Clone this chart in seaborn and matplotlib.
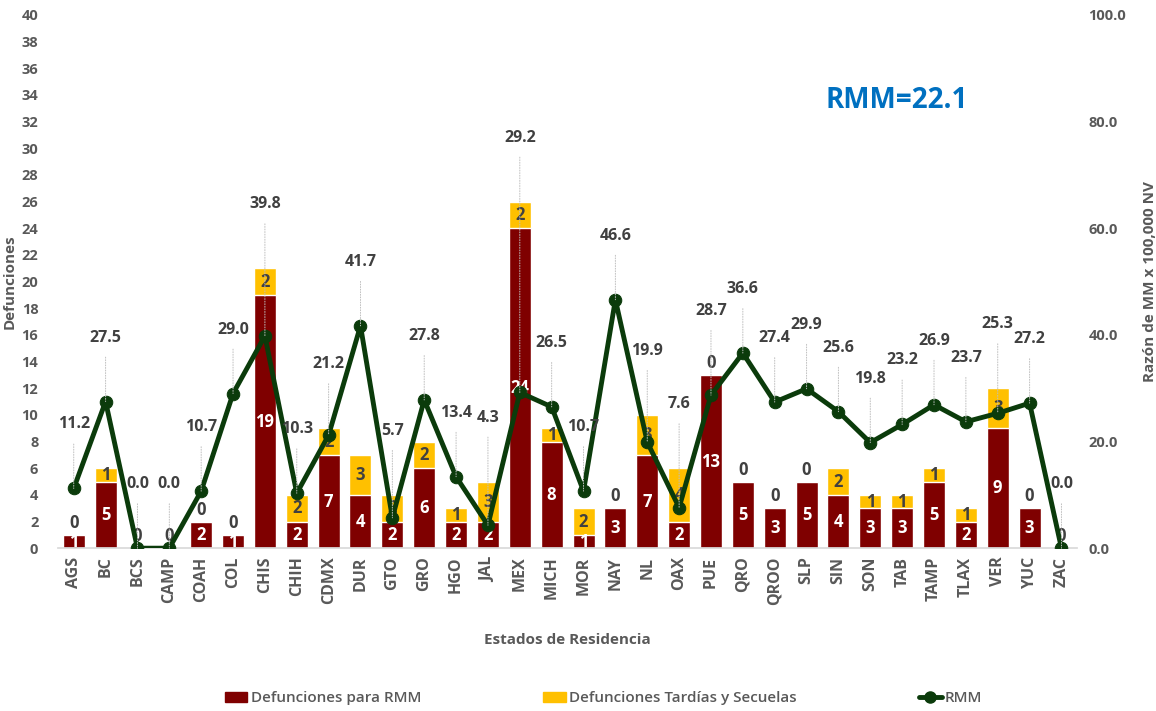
import numpy as np
import pandas as pd
import seaborn as sns
import matplotlib.pyplot as plt
from matplotlib.lines import Line2D
from matplotlib.patches import Patch

# datos por estado de residencia
estados = ["AGS", "BC", "BCS", "CAMP", "COAH", "COL", "CHIS", "CHIH", "CDMX", "DUR",
           "GTO", "GRO", "HGO", "JAL", "MEX", "MICH", "MOR", "NAY", "NL", "OAX",
           "PUE", "QRO", "QROO", "SLP", "SIN", "SON", "TAB", "TAMP", "TLAX", "VER",
           "YUC", "ZAC"]
def_rmm = [1, 5, 0, 0, 2, 1, 19, 2, 7, 4, 2, 6, 2, 2, 24, 8, 1, 3, 7, 2,
           13, 5, 3, 5, 4, 3, 3, 5, 2, 9, 3, 0]
def_tardias = [0, 1, 0, 0, 0, 0, 2, 2, 2, 3, 2, 2, 1, 3, 2, 1, 2, 0, 3, 4,
               0, 0, 0, 0, 2, 1, 1, 1, 1, 3, 0, 0]
rmm = [11.2, 27.5, 0.0, 0.0, 10.7, 29.0, 39.8, 10.3, 21.2, 41.7, 5.7, 27.8, 13.4,
       4.3, 29.2, 26.5, 10.7, 46.6, 19.9, 7.6, 28.7, 36.6, 27.4, 29.9, 25.6, 19.8,
       23.2, 26.9, 23.7, 25.3, 27.2, 0.0]
rmm_nacional = 22.1

ROJO = "#7F0000"
ORO = "#FFC000"
VERDE = "#0B3B0B"
GRIS = "#595959"
GRIS_OSC = "#404040"

df = pd.DataFrame({"estado": estados, "rmm_def": def_rmm, "tardias": def_tardias, "rmm": rmm})
df["total"] = df["rmm_def"] + df["tardias"]

sns.set_theme(style="white")
plt.rcParams['font.family'] = ['Open Sans', 'DejaVu Sans']

fig = plt.figure(figsize=(11.56, 7.11), dpi=100)
ax = fig.add_axes([0.050, 0.229, 0.882, 0.750])

# barras apiladas: total en amarillo, encima la parte roja
sns.barplot(data=df, x="estado", y="total", color=ORO, width=0.69, saturation=1, ax=ax)
sns.barplot(data=df, x="estado", y="rmm_def", color=ROJO, width=0.69, saturation=1, ax=ax)

for i, (r, t) in enumerate(zip(df["rmm_def"], df["tardias"])):
    if r > 0:
        ax.text(i, r / 2, str(r), color="white", ha="center", va="center",
                fontsize=12, fontweight="bold")
    if t > 0:
        ax.text(i, r + t / 2, str(t), color=GRIS_OSC, ha="center", va="center",
                fontsize=12, fontweight="bold")
    else:
        ax.text(i, r + 0.9, "0", color=GRIS_OSC, ha="center", va="center",
                fontsize=12, fontweight="bold")

ax.set_xlim(-0.5, len(df) - 0.5)
ax.set_ylim(0, 40)
ax.set_yticks(range(0, 41, 2))
ax.set_xlabel("Estados de Residencia", color=GRIS, fontsize=11, fontweight="bold", labelpad=20)
ax.set_ylabel("Defunciones", color=GRIS, fontsize=11, fontweight="bold")
ax.yaxis.set_label_coords(-0.040, 0.5)
ax.tick_params(axis="x", rotation=90, length=0, labelsize=11.5, labelcolor=GRIS, pad=6)
ax.tick_params(axis="y", length=0, labelsize=10.5, labelcolor=GRIS, pad=14)
for lbl in ax.get_xticklabels() + ax.get_yticklabels():
    lbl.set_fontweight("bold")
for s in ["top", "left", "right"]:
    ax.spines[s].set_visible(False)
ax.spines["bottom"].set_color("#D9D9D9")

# linea de RMM en eje secundario
ax2 = ax.twinx()
sns.lineplot(x=np.arange(len(df)), y=df["rmm"], ax=ax2, color=VERDE, lw=3.5,
             marker="o", markersize=9, markerfacecolor=VERDE, markeredgecolor=VERDE)
ax2.set_ylim(0, 100)
ax2.set_yticks(range(0, 101, 20))
ax2.set_yticklabels([f"{v:.1f}" for v in range(0, 101, 20)])
ax2.tick_params(axis="y", length=0, labelsize=10.5, labelcolor=GRIS, pad=8)
for lbl in ax2.get_yticklabels():
    lbl.set_fontweight("bold")
ax2.set_ylabel("Razón de MM x 100,000 NV", color=GRIS, fontsize=11, fontweight="bold")
ax2.yaxis.set_label_coords(1.064, 0.5)
for s in ax2.spines.values():
    s.set_visible(False)

for i, (v, tot) in enumerate(zip(df["rmm"], df["total"])):
    y_txt = max(v, tot * 2.5) + 12
    ax2.annotate(f"{v:.1f}", xy=(i, v), xytext=(i, y_txt), ha="center", va="center",
                 color=GRIS_OSC, fontsize=11.5, fontweight="bold",
                 arrowprops=dict(arrowstyle="-", color="#BFBFBF", lw=0.7, linestyle=":",
                                 shrinkA=6, shrinkB=0))

fig.text(897 / 1156, 1 - 101 / 711, f"RMM={rmm_nacional}", color="#0070C0",
         fontsize=20, fontweight="bold", ha="center", va="center")

handles = [Patch(color=ROJO), Patch(color=ORO),
           Line2D([], [], color=VERDE, lw=3.5, marker="o", markersize=8)]
fig.legend(handles, ["Defunciones para RMM", "Defunciones Tardías y Secuelas", "RMM"],
           loc="center", bbox_to_anchor=(0.522, 0.018), ncol=3, frameon=False,
           columnspacing=8.0, handlelength=1.5, handletextpad=0.2,
           prop={"size": 11, "weight": "semibold"}, labelcolor=GRIS)

fig.savefig("out.png", dpi=100)
